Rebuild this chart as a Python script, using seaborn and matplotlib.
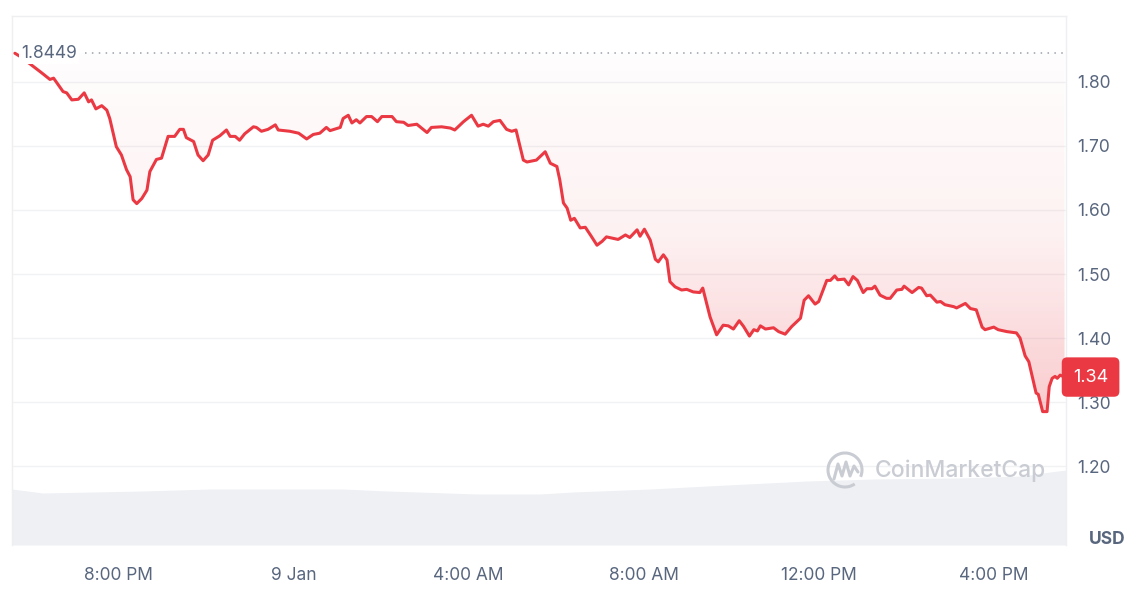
import matplotlib.pyplot as plt
import matplotlib.dates as mdates
import numpy as np
import pandas as pd
import seaborn as sns
from matplotlib.colors import LinearSegmentedColormap
from matplotlib.patches import Arc

# --- data ---
start = pd.Timestamp('2025-01-08 17:38')

minutes = [0, 7, 21, 37, 48, 53, 66, 71, 78, 87,
           95, 101, 105, 111, 119, 126, 130, 139, 146, 153,
           158, 162, 167, 174, 181, 185, 194, 201, 210, 219,
           226, 231, 235, 245, 251, 258, 265, 271, 281, 290,
           295, 302, 308, 315, 327, 331, 338, 347, 357, 361,
           377, 389, 400, 409, 418, 427, 432, 446, 450, 457,
           462, 468, 473, 482, 489, 497, 503, 517, 523, 533,
           539, 551, 565, 571, 585, 597, 603, 615, 626, 635,
           642, 649, 656, 665, 674, 681, 687, 697, 702, 715,
           727, 734, 743, 747, 752, 757, 762, 767, 775, 782,
           789, 798, 805, 811, 827, 837, 843, 853, 857, 863,
           871, 878, 882, 889, 894, 898, 905, 914, 921, 930,
           939, 943, 953, 962, 971, 978, 985, 993, 999, 1007,
           1013, 1018, 1022, 1029, 1040, 1047, 1056, 1065, 1077, 1082,
           1088, 1097, 1102, 1113, 1118, 1124, 1128, 1137, 1143, 1149,
           1155, 1163, 1168, 1175, 1179, 1186, 1195, 1200, 1209, 1216,
           1219, 1230, 1239, 1243, 1250, 1255, 1264, 1269, 1275, 1287,
           1291, 1303, 1310, 1318, 1326, 1330, 1342, 1348, 1360, 1373,
           1378, 1385, 1390, 1397, 1400, 1403, 1409, 1415, 1418, 1422,
           1426, 1429, 1433, 1439]

price = [1.8449, 1.840, 1.828, 1.814, 1.804, 1.806, 1.785, 1.783, 1.772, 1.773,
         1.783, 1.769, 1.772, 1.758, 1.763, 1.756, 1.743, 1.699, 1.686, 1.663,
         1.652, 1.616, 1.610, 1.618, 1.631, 1.660, 1.679, 1.681, 1.715, 1.715,
         1.726, 1.726, 1.713, 1.707, 1.686, 1.677, 1.686, 1.709, 1.716, 1.725,
         1.715, 1.715, 1.709, 1.719, 1.730, 1.729, 1.723, 1.726, 1.733, 1.725,
         1.723, 1.720, 1.711, 1.718, 1.720, 1.729, 1.724, 1.729, 1.743, 1.748,
         1.736, 1.741, 1.736, 1.746, 1.746, 1.738, 1.746, 1.746, 1.738, 1.737,
         1.732, 1.734, 1.721, 1.729, 1.730, 1.728, 1.725, 1.738, 1.748, 1.731,
         1.734, 1.731, 1.738, 1.740, 1.726, 1.723, 1.725, 1.678, 1.675, 1.678,
         1.691, 1.673, 1.668, 1.647, 1.611, 1.603, 1.584, 1.587, 1.572, 1.573,
         1.561, 1.545, 1.551, 1.558, 1.554, 1.561, 1.557, 1.569, 1.559, 1.570,
         1.553, 1.523, 1.519, 1.530, 1.522, 1.488, 1.480, 1.475, 1.476, 1.472,
         1.471, 1.478, 1.433, 1.405, 1.420, 1.419, 1.414, 1.427, 1.418, 1.403,
         1.413, 1.411, 1.419, 1.414, 1.416, 1.410, 1.406, 1.418, 1.431, 1.459,
         1.466, 1.453, 1.457, 1.490, 1.490, 1.497, 1.491, 1.492, 1.483, 1.496,
         1.490, 1.471, 1.477, 1.477, 1.481, 1.467, 1.462, 1.462, 1.475, 1.476,
         1.481, 1.471, 1.479, 1.478, 1.466, 1.467, 1.456, 1.457, 1.452, 1.449,
         1.447, 1.454, 1.446, 1.444, 1.417, 1.413, 1.417, 1.413, 1.410, 1.408,
         1.400, 1.372, 1.363, 1.329, 1.314, 1.312, 1.285, 1.285, 1.324, 1.337,
         1.340, 1.337, 1.342, 1.339]

# volume (relative, millions) sampled along the same window
vol_minutes = [-4, 38, 176, 267, 450, 510, 634, 720, 765, 871,
               949, 1086, 1177, 1292, 1382, 1419, 1441]
volume = [5.6, 5.2, 5.4, 5.6, 5.6, 5.4, 5.1, 5.1, 5.3, 5.6,
          5.9, 6.4, 6.6, 6.7, 6.9, 7.3, 7.5]

open_price = 1.8449
last_label = '1.34'
y_ticks = [1.20, 1.30, 1.40, 1.50, 1.60, 1.70, 1.80]
x_tick_times = ['2025-01-08 20:00', '2025-01-09 00:00', '2025-01-09 04:00',
                '2025-01-09 08:00', '2025-01-09 12:00', '2025-01-09 16:00']
x_tick_labels = ['8:00 PM', '9 Jan', '4:00 AM', '8:00 AM', '12:00 PM', '4:00 PM']

RED = '#ea3943'
GREY_TXT = '#58667e'

df = pd.DataFrame({'time': start + pd.to_timedelta(minutes, unit='min'),
                   'price': price})
vol = pd.DataFrame({'time': start + pd.to_timedelta(vol_minutes, unit='min'),
                    'volume': volume})

sns.set_theme(style='white')
plt.rcParams['font.family'] = ['Inter', 'DejaVu Sans']

fig = plt.figure(figsize=(11.4, 5.95), dpi=100)
ax = fig.add_axes([12 / 1140, 50 / 595, 1054 / 1140, 529 / 595])
ax2 = ax.twinx()
ax.set_zorder(2)
ax2.set_zorder(1)
ax.patch.set_visible(False)

# volume band at the bottom
ax2.fill_between(vol['time'], vol['volume'], 0, color='#eef0f4', lw=0)
ax2.set_ylim(0, 52.9)
ax2.set_yticks([])
for s in ax2.spines.values():
    s.set_visible(False)

# price line
sns.lineplot(data=df, x='time', y='price', ax=ax, color=RED, linewidth=2.2,
             zorder=4)

# gradient fill between open price and the line
poly = ax.fill_between(df['time'], df['price'], open_price, color='none', lw=0)
x0 = mdates.date2num(df['time'].iloc[0])
x1 = mdates.date2num(df['time'].iloc[-1])
r, g, b = 0.918, 0.224, 0.263
cmap = LinearSegmentedColormap.from_list(
    'redfade', [(0.0, (r, g, b, 0.01)), (0.5, (r, g, b, 0.07)),
                (1.0, (r, g, b, 0.26))])
grad = np.linspace(0, 1, 256).reshape(-1, 1)
im = ax.imshow(grad, extent=[x0, x1, open_price, min(price)], origin='lower',
               aspect='auto', cmap=cmap, zorder=3)
im.set_clip_path(poly.get_paths()[0], transform=ax.transData)

# dotted open-price reference
ax.hlines(open_price, start + pd.Timedelta(minutes=96),
          start + pd.Timedelta(minutes=1439), colors='#9aa0aa',
          linestyles=(0, (1, 3.5)), lw=1.1, zorder=3)
ax.text(start + pd.Timedelta(minutes=9), open_price, '1.8449', ha='left',
        va='center', fontsize=12.5, color=GREY_TXT, zorder=5,
        bbox=dict(fc='white', ec='none', pad=1.5))

ax.set_xlim(start - pd.Timedelta(minutes=4), start + pd.Timedelta(minutes=1441))
ax.set_ylim(1.0766, 1.9031)
ax.set_yticks(y_ticks)
ax.set_yticklabels([f'{v:.2f}' for v in y_ticks])
ax.yaxis.tick_right()
ax.set_xticks(pd.to_datetime(x_tick_times))
ax.set_xticklabels(x_tick_labels)
ax.tick_params(axis='both', length=0, labelsize=12.5, labelcolor=GREY_TXT)
ax.tick_params(axis='x', pad=16)
ax.tick_params(axis='y', pad=8)
ax.set_xlabel('')
ax.set_ylabel('')
ax.grid(axis='y', color='#f1f2f4', lw=1)
ax.grid(axis='x', visible=False)
for side in ['left', 'top', 'right']:
    ax.spines[side].set_color('#eeeff1')
    ax.spines[side].set_linewidth(1)
ax.spines['bottom'].set_visible(False)

# current price tag
ax.annotate(last_label, xy=(1, price[-1]), xycoords=('axes fraction', 'data'),
            xytext=(5, 0), textcoords='offset points', ha='left', va='center',
            fontsize=13, color='white', zorder=6, annotation_clip=False,
            bbox=dict(boxstyle='round,pad=0.62,rounding_size=0.3', fc=RED,
                      ec='none'))

fig.text(1125 / 1140, 1 - 539 / 595, 'USD', ha='right', va='center',
         fontsize=12.5, fontweight='bold', color=GREY_TXT)

# watermark
fig.text(875 / 1140, 1 - 471 / 595, 'CoinMarketCap', ha='left', va='center',
         fontsize=16.5, fontweight='medium', color='#c9ccd3', zorder=5)
fig.add_artist(Arc((845 / 1140, 1 - 470 / 595), 34 / 1140, 34 / 595,
                   theta1=-40, theta2=290, transform=fig.transFigure,
                   color='#c9ccd3', lw=2.2, zorder=5))
mx = np.array([834, 838, 842, 846, 850, 854, 858]) / 1140
my = 1 - np.array([479, 464, 476, 462, 476, 466, 472]) / 595
fig.add_artist(plt.Line2D(mx, my, transform=fig.transFigure,
                          color='#c9ccd3', lw=2.2, zorder=5))

fig.savefig('out.png', dpi=100)
